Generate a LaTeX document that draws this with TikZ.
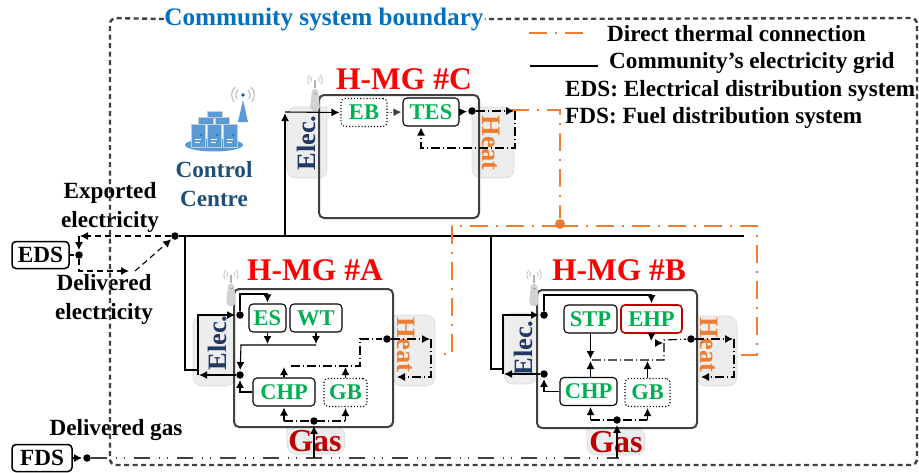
\documentclass[tikz,border=0pt]{standalone}
\usepackage{fontspec}
\setmainfont{Liberation Serif}
\usetikzlibrary{arrows.meta}

\definecolor{boundgray}{HTML}{404040}
\definecolor{boundblue}{HTML}{0070C0}
\definecolor{heatorange}{HTML}{ED7D31}
\definecolor{elecnavy}{HTML}{1F3864}
\definecolor{centreblue}{HTML}{1F4E79}
\definecolor{rackblue}{HTML}{5B9BD5}
\definecolor{unitgreen}{HTML}{00B050}
\definecolor{gasred}{HTML}{C00000}
\definecolor{padgray}{HTML}{EDEDED}

\newcommand{\antenna}[2]{
  \draw[gray!60, line width=1.4pt] (#1,#2-9) -- (#1,#2);
  \fill[gray!35, rounded corners=2pt] (#1-3,#2) -- (#1+3,#2) -- (#1+5,#2+20) -- (#1,#2+23) -- (#1-5,#2+20) -- cycle;
  \fill[gray!70] (#1-1.5,#2+4) rectangle (#1+1.5,#2+5);
  \draw[gray!50, line width=.8pt] (#1-3,#2-12) arc[start angle=135, end angle=225, radius=4pt];
  \draw[gray!50, line width=.8pt] (#1+3,#2-12) arc[start angle=45, end angle=-45, radius=4pt];
  \draw[gray!50, line width=.8pt] (#1-5,#2-14) arc[start angle=135, end angle=225, radius=7pt];
  \draw[gray!50, line width=.8pt] (#1+5,#2-14) arc[start angle=45, end angle=-45, radius=7pt];
}

\begin{document}
\begin{tikzpicture}[x=1pt, y=-1pt, >={Latex[length=8pt,width=8pt]}, shorten >=1pt,
  every node/.style = {inner sep=0pt, font=\bfseries\fontsize{23.2}{29}\selectfont},
  unit/.style = {draw, rounded corners=4pt, line width=1.1pt, minimum height=28pt, text=unitgreen, font=\bfseries\fontsize{22.5}{22.5}\selectfont},
  unitdot/.style = {unit, dotted, draw=black},
  outer/.style = {draw, rounded corners=4pt, line width=1.5pt, minimum height=27pt},
  hmg/.style = {draw=boundgray, line width=2pt, rounded corners=5pt},
  pad/.style = {fill=padgray, draw=gray!30, line width=.6pt, rounded corners=9pt},
  dot/.style = {circle, fill=black, minimum size=7.5pt},
  title/.style = {text=red, font=\bfseries\fontsize{31.5}{31.5}\selectfont},
  elec/.style = {text=elecnavy, rotate=90, font=\bfseries\fontsize{26.5}{26.5}\selectfont},
  heat/.style = {text=heatorange, rotate=-90, font=\bfseries\fontsize{26.5}{26.5}\selectfont},
  gas/.style = {text=gasred, font=\bfseries\fontsize{32}{32}\selectfont},
  grid/.style = {line width=1.5pt},
  line/.style = {line width=1.1pt},
  dd/.style = {line width=1.1pt, dash pattern=on 9pt off 3pt on 1pt off 3pt},
  dsh/.style = {line width=1.1pt, dash pattern=on 6pt off 4pt},
  thermal/.style = {draw=heatorange, line width=1.7pt, dash pattern=on 18pt off 8pt on 2pt off 8pt},
  fuel/.style = {draw=boundgray, line width=1.1pt, dash pattern=on 16pt off 9pt on 1pt off 7pt on 1pt off 9pt},
  bound/.style = {draw=boundgray, line width=2.4pt, dash pattern=on 5pt off 3.5pt, rounded corners=6pt}]

\useasboundingbox (0,0) rectangle (919,472);

% pads
\path[pad] (327,107) -- (287,107) -- (287,178) -- (327,178) [sharp corners] -- cycle;
\path[pad] (472,107) -- (514,107) -- (514,178) -- (472,178) [sharp corners] -- cycle;
\path[pad] (235,316) -- (193,316) -- (193,386) -- (235,386) [sharp corners] -- cycle;
\path[pad] (393,315) -- (435,315) -- (435,386) -- (393,386) [sharp corners] -- cycle;
\path[pad] (287,427) -- (287,454) -- (345,454) -- (345,427) [sharp corners] -- cycle;
\path[pad] (537,313) -- (504,313) -- (504,384) -- (537,384) [sharp corners] -- cycle;
\path[pad] (697,316) -- (737,316) -- (737,386) -- (697,386) [sharp corners] -- cycle;
\path[pad] (587,428) -- (587,455) -- (645,455) -- (645,428) [sharp corners] -- cycle;

% microgrid frames
\draw[hmg] (319,95) rectangle (479,218);
\draw[hmg] (234,289) rectangle (393,427);
\draw[hmg] (537,290) rectangle (697,428);

\antenna{315}{89}
\antenna{231}{284}
\antenna{534}{284}

% control centre icon
\fill[rackblue] (214,145) ellipse [x radius=29pt, y radius=6.5pt];
\foreach \rx/\ry/\rw/\rh in {207/111/15/7, 198/117/15/7, 215/117/14/7, 191/124/14/23, 207/124/14/23, 223/124/14/23}{
  \filldraw[fill=rackblue, draw=gray!40, line width=1pt] (\rx,\ry) rectangle (\rx+\rw,\ry+\rh);
}
\foreach \rx in {195,211,227}{
  \draw[white, line width=.6pt] (\rx,139) -- (\rx+6,139) (\rx,142) -- (\rx+6,142);
  \fill[centreblue] (\rx+6,135) circle (.8pt);
}
\fill[rackblue] (243,100) -- (248,122) -- (238,122) -- cycle;
\fill[centreblue] (243,95) circle (1.8pt);
\draw[gray!50, line width=1.2pt] (238,90) arc[start angle=135, end angle=225, radius=7pt];
\draw[gray!50, line width=1.2pt] (248,90) arc[start angle=45, end angle=-45, radius=7pt];
\draw[gray!50, line width=1.2pt] (235,87) arc[start angle=135, end angle=225, radius=11pt];
\draw[gray!50, line width=1.2pt] (251,87) arc[start angle=45, end angle=-45, radius=11pt];

% texts
\node[text=boundblue, font=\bfseries\fontsize{25.2}{25.2}\selectfont] (boundary) at (324,19) {Community system boundary};
\node[anchor=west] (legthermal) at (607,34) {Direct thermal connection};
\node[anchor=west] (leggrid) at (609,63) {Community’s electricity grid};
\node[anchor=west] (legeds) at (565,91) {EDS: Electrical distribution system};
\node[anchor=west] (legfds) at (565,118) {FDS: Fuel distribution system};
\node[align=center, text=centreblue] (centre) at (214,184) {Control\\Centre};
\node[align=center] (exported) at (110,207) {Exported\\electricity};
\node[align=center] (delivered) at (104,299) {Delivered\\electricity};
\node (deliveredgas) at (116,430) {Delivered gas};
\node[outer, minimum width=57pt] (eds) at (40.5,255) {EDS};
\node[outer, minimum width=60pt] (fds) at (42,458) {FDS};

\node[title] (titlec) at (404,79) {H-MG \#C};
\node[title] (titlea) at (315,270) {H-MG \#A};
\node[title] (titleb) at (619,270) {H-MG \#B};

\node[elec] (elecc) at (306,143) {Elec.};
\node[heat] (heatc) at (491,143) {Heat};
\node[elec] (eleca) at (217,343) {Elec.};
\node[heat] (heata) at (406,345) {Heat};
\node[gas] (gasa) at (315,441) {Gas};
\node[elec] (elecb) at (523,348) {Elec.};
\node[heat] (heatb) at (709,345) {Heat};
\node[gas] (gasb) at (616,442) {Gas};

% units
\node[unitdot] (ebc) at (364,112.5) [minimum width=46pt] {EB};
\node[unit] (tesc) at (431,112) [minimum width=56pt] {TES};
\node[unit] (esa) at (267.5,318) [minimum width=37pt] {ES};
\node[unit] (wta) at (316,318) [minimum width=52pt] {WT};
\node[unit] (chpa) at (284,392) [minimum width=62pt] {CHP};
\node[unitdot] (gba) at (345.5,392.5) [minimum width=43pt] {GB};
\node[unit] (stpb) at (590.5,319) [minimum width=53pt] {STP};
\node[unit, draw=gasred, line width=1.6pt] (ehpb) at (651.5,319) [minimum width=61pt] {EHP};
\node[unit] (chpb) at (588.5,391.5) [minimum width=57pt] {CHP};
\node[unitdot] (gbb) at (647.5,392.5) [minimum width=45pt] {GB};

% junctions
\node[dot] (griddot) at (175,236) {};
\node[dot] (edsdot) at (79,255) {};
\node[dot] (fdsdot) at (87,458) {};
\node[dot, fill=heatorange, minimum size=10pt] (thermaldot) at (560,224) {};
\node[dot] (heatdotc) at (472,111) {};
\node[dot] (elecdota) at (240,315) {};
\node[dot] (busdota) at (240,375) {};
\node[dot] (heatdota) at (387,339) {};
\node[dot] (gasdota) at (314,421) {};
\node[dot] (elecdotb) at (544,315) {};
\node[dot] (busdotb) at (544,374) {};
\node[dot] (heatdotb) at (691,339) {};
\node[dot] (gasdotb) at (617,420) {};

\coordinate (gridend) at (745,236);
\coordinate (tapc) at (285,236);
\coordinate (tapa) at (185,236);
\coordinate (tapb) at (491,236);
\coordinate (elecinc) at (285,112);
\coordinate (eleca1) at (198,315);
\coordinate (eleca2) at (198,375);
\coordinate (ina) at (198,370);
\coordinate (elecb1) at (503,315);
\coordinate (elecb2) at (503,374);
\coordinate (inb) at (503,369);
\coordinate (heatc1) at (515,111);
\coordinate (heatc2) at (515,148);
\coordinate (tesin) at (421,148);
\coordinate (thermc1) at (511,110);
\coordinate (thermc2) at (560,110);
\coordinate (therml) at (452,226);
\coordinate (thermr) at (757,226);
\coordinate (therma) at (452,354);
\coordinate (thermae) at (436,354);
\coordinate (thermb) at (757,355);
\coordinate (thermbe) at (737,355);
\coordinate (fuelend) at (620,458);
\coordinate (fuela) at (314,458);
\coordinate (fuelb) at (617,458);
\coordinate (bl) at (110,465);
\coordinate (br) at (917,465);
\coordinate (tr) at (917,18);
\coordinate (tl) at (110,18);

% boundary and legend
\draw[bound] (boundary.west) -- (tl) -- (bl) -- (br) -- (tr) -- (boundary.east);
\coordinate (leg1) at (529,33);
\coordinate (leg2) at (588,33);
\coordinate (leg3) at (530,66);
\coordinate (leg4) at (599,66);
\draw[thermal] (leg1) -- (leg2);
\draw[grid] (leg3) -- (leg4);

% community grid and thermal links
\draw[grid] (griddot) -- (gridend);
\draw[grid] (tapa) |- (ina);
\draw[grid] (tapb) |- (inb);
\draw[grid,->] (tapc) -- (elecinc);
\draw[thermal] (thermc1) -- (thermc2) -- (thermaldot);
\draw[thermal] (thermaldot |- therml) -- (therml) -- (therma) -- (thermae);
\draw[thermal] (thermaldot |- thermr) -- (thermr) -- (thermb) -- (thermbe);

% EDS and FDS
\coordinate (exp1) at (79,236);
\coordinate (del1) at (79,271);
\coordinate (del2) at (130,271);
\coordinate (del3) at (135,271);
\draw[line] (eds) -- (edsdot);
\draw[dsh,->] (griddot) -- (exp1);
\draw[dsh,->] (exp1) -- (edsdot);
\draw[dsh,->] (edsdot) -- (del1) -- (del2);
\draw[dsh,->] (del3) -- (griddot);
\draw[line,->] (fds) -- (fdsdot);
\draw[fuel] (fdsdot) -- (fuelend);

% H-MG C
\draw[line,->] (elecinc) -- (ebc.west);
\draw[line,dotted,->,draw=boundgray] (ebc.east) -- (tesc.west);
\draw[line,->] (tesc.east) -- (heatdotc);
\draw[dd,->] (heatdotc) -- (heatc1);
\draw[dd,->] (heatc1) -- (heatc2) -- (tesin) -- (tesin |- tesc.south);

% H-MG A
\coordinate (topa) at (240,294);
\coordinate (busa) at (241,345);
\coordinate (hbusa) at (291,366);
\coordinate (hbusa2) at (360,366);
\coordinate (hbusa3) at (360,339);
\coordinate (heata1) at (431,339);
\coordinate (heata2) at (431,377);
\coordinate (heatina) at (396,377);
\draw[grid,->] (eleca2) -- (eleca1) -- (elecdota);
\draw[grid,->] (busdota) -- (eleca2);
\draw[line,->] (elecdota) -- (topa) -| (esa.north);
\draw[line,->] (esa.south) -- (esa.south |- busa);
\draw[line,->] (wta.south) -- (wta.south |- busa);
\draw[line,->] (wta.south |- busa) -- (busa) -- (busdota);
\draw[line,->] (chpa.west) -| (busdota);
\draw[line,->] (chpa.north) -- (chpa.north |- hbusa);
\draw[line,->] (gba.north) -- (gba.north |- hbusa);
\draw[dd] (hbusa) -- (hbusa2) -- (hbusa3) -- (heatdota);
\draw[dd,->] (heatdota) -- (heata1);
\draw[dd,->] (heata1) -- (heata2) -- (heatina);
\draw[dd] (chpa.south |- gasdota) -- (gba.south |- gasdota);
\draw[dd,->] (chpa.south |- gasdota) -- (chpa.south);
\draw[dd,->] (gba.south |- gasdota) -- (gba.south);
\draw[line,->] (fuela) -- (gasdota);

% H-MG B
\coordinate (topb) at (544,295);
\coordinate (hbusb) at (592,360);
\coordinate (hbusb2) at (664,360);
\coordinate (hbusb3) at (664,340);
\coordinate (ehpout) at (651,342);
\coordinate (ehpin1) at (655,343);
\coordinate (ehpin2) at (664,343);
\coordinate (heatb1) at (734,339);
\coordinate (heatb2) at (734,377);
\coordinate (heatinb) at (700,377);
\draw[grid,->] (elecb2) -- (elecb1) -- (elecdotb);
\draw[grid,->] (busdotb) -- (elecb2);
\draw[line,->] (elecdotb) -- (topb) -| (ehpb.north);
\draw[line,->] (ehpb.south) -- (ehpout);
\draw[line,->] (ehpin1) -- (ehpin2);
\draw[line,->] (stpb.south) -- (stpb.south |- hbusb);
\draw[line,->] (chpb.north -| stpb.south) -- (stpb.south |- hbusb);
\draw[line,->] (gbb.north) -- (gbb.north |- hbusb);
\draw[line,->] (chpb.west) -| (busdotb);
\draw[dd] (hbusb) -- (hbusb2) -- (hbusb3) -- (heatdotb);
\draw[dd,->] (heatdotb) -- (heatb1);
\draw[dd,->] (heatb1) -- (heatb2) -- (heatinb);
\draw[dd] (stpb.south |- gasdotb) -- (gbb.south |- gasdotb);
\draw[dd,->] (stpb.south |- gasdotb) -- (stpb.south |- chpb.south);
\draw[dd,->] (gbb.south |- gasdotb) -- (gbb.south);
\draw[line,->] (fuelb) -- (gasdotb);

\end{tikzpicture}
\end{document}
